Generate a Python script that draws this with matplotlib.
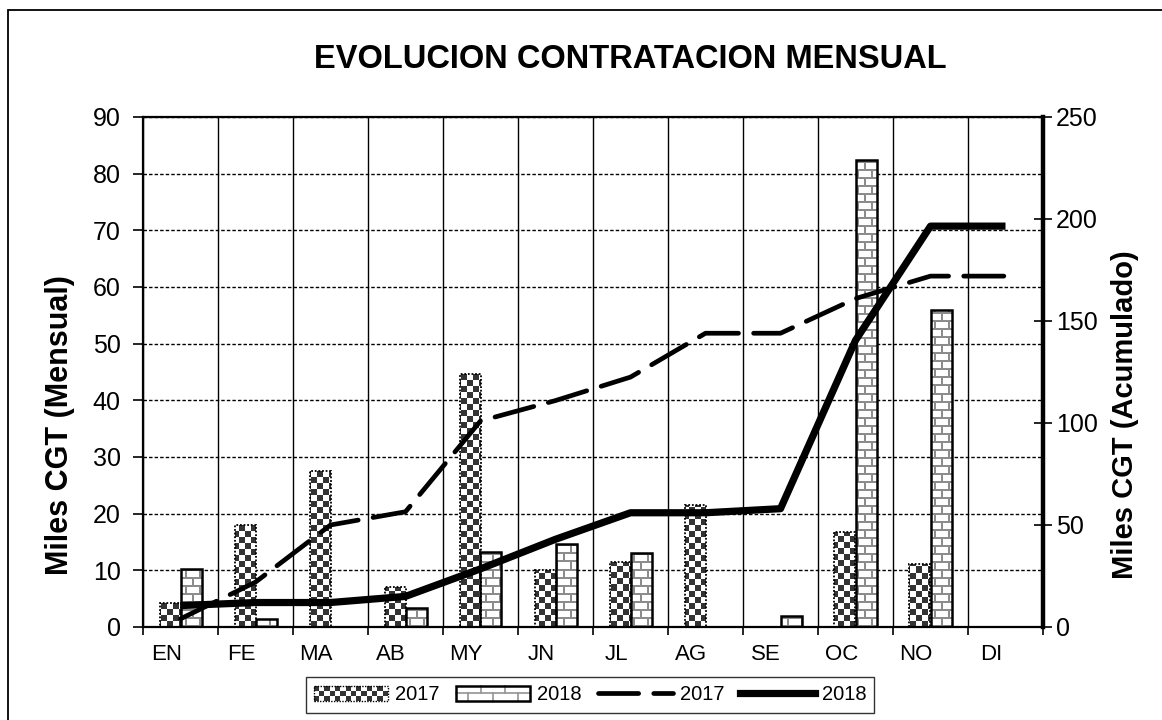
import numpy as np
import matplotlib
matplotlib.use('Agg')
import matplotlib.pyplot as plt
from matplotlib.patches import Rectangle, Patch
from matplotlib.lines import Line2D

# datos
meses = ['EN', 'FE', 'MA', 'AB', 'MY', 'JN', 'JL', 'AG', 'SE', 'OC', 'NO', 'DI']
mensual_2017 = [4.2, 18, 27.5, 7, 44.7, 10, 11.5, 21.5, 0, 16.8, 11.2, 0]
mensual_2018 = [10.2, 1.5, 0, 3.3, 13.2, 14.7, 13, 0, 2, 82.5, 56, 0]
acum_2017 = [4, 22, 50, 56.5, 101, 111, 122.5, 144, 144, 161, 172, 172]
acum_2018 = [10.5, 12, 12, 15, 28.5, 43, 56, 56, 58, 140.5, 196.5, 196.5]

plt.rcParams['font.family'] = ['Liberation Sans', 'DejaVu Sans']

fig = plt.figure(figsize=(11.62, 7.2), dpi=100)
ax = fig.add_axes([143/1162, 93/720, 900/1162, 510/720])
ax2 = ax.twinx()

x = np.arange(len(meses))
w = 0.28

# patrones (en pixeles de pantalla)
H, W = 510, 900
rr, cc = np.mgrid[0:H, 0:W]
checker = ((rr // 6 + cc // 6) % 2 == 0)
img_checker = np.ones((H, W, 3))
img_checker[checker] = 0.2
row = rr // 8
brick_line = (rr % 8 < 2) | (((cc + (row % 2) * 7) % 14) < 2)
img_brick = np.ones((H, W, 3))
img_brick[brick_line] = 0.55

ext = (-0.5, 11.5, 0, 90)
b17 = ax.bar(x - w/2, mensual_2017, w, facecolor='none', edgecolor='black',
             linestyle=(0, (1, 1)), linewidth=1.3, zorder=3)
b18 = ax.bar(x + w/2, mensual_2018, w, facecolor='none', edgecolor='black',
             linewidth=1.8, zorder=3)
for bars, pat in ((b17, img_checker), (b18, img_brick)):
    for r in bars:
        if r.get_height() <= 0:
            continue
        im = ax.imshow(pat, extent=ext, origin='lower', aspect='auto',
                       interpolation='nearest', zorder=2)
        im.set_clip_path(r)

ax.set_xlim(-0.5, 11.5)
ax.set_ylim(0, 90)
ax.set_yticks(range(0, 91, 10))
ax.set_xticks(x - 0.19)
ax.set_xticklabels(meses, fontsize=16)
ax.set_xticks(np.arange(-0.5, 12, 1), minor=True)
ax.tick_params(axis='x', which='major', length=0, pad=12)
ax.tick_params(axis='x', which='minor', length=6, width=1.2, direction='out')
ax.tick_params(axis='y', labelsize=18, length=7, width=1.2, pad=9)
ax.set_axisbelow(True)
ax.xaxis.grid(True, which='minor', color='black', linewidth=1)
ax.yaxis.grid(True, which='major', color='black', linewidth=1, linestyle=(0, (2.5, 1.5)))
for s in ['left', 'bottom', 'top']:
    ax.spines[s].set_linewidth(1.6)
ax.spines['right'].set_visible(False)

ax2.plot(x, acum_2017, color='black', linewidth=3.4, linestyle=(0, (8.5, 3.2)),
         dash_capstyle='round', zorder=4)
ax2.plot(x, acum_2018, color='black', linewidth=5.2, solid_capstyle='butt', zorder=5)
ax2.set_ylim(0, 250)
ax2.set_yticks(range(0, 251, 50))
ax2.tick_params(axis='y', labelsize=18, length=13, width=1.2, direction='inout', pad=3)
for s in ['left', 'bottom', 'top']:
    ax2.spines[s].set_visible(False)
ax2.spines['right'].set_linewidth(3.2)

fig.text(630/1162, 1 - 60/720, 'EVOLUCION CONTRATACION MENSUAL', fontsize=23.5,
         fontweight='bold', ha='center', va='center')
fig.text(60/1162, 1 - 425/720, 'Miles CGT (Mensual)', fontsize=22, fontweight='bold',
         rotation=90, ha='center', va='center')
fig.text(1125/1162, 1 - 415/720, 'Miles CGT (Acumulado)', fontsize=21, fontweight='bold',
         rotation=90, ha='center', va='center')


class CheckerHandler:
    def legend_artist(self, legend, orig_handle, fontsize, handlebox):
        x0, y0 = handlebox.xdescent, handlebox.ydescent
        wd, ht = handlebox.width, handlebox.height
        nx, ny = 14, 3
        cw, ch = wd / nx, ht / ny
        tr = handlebox.get_transform()
        for i in range(nx):
            for j in range(ny):
                if (i + j) % 2 == 0:
                    handlebox.add_artist(Rectangle((x0 + i*cw, y0 + j*ch), cw, ch,
                                                   facecolor='#333333', edgecolor='none', transform=tr))
        border = Rectangle((x0, y0), wd, ht, facecolor='none', edgecolor='black',
                           linestyle=(0, (1, 1)), linewidth=1, transform=tr)
        handlebox.add_artist(border)
        return border


class BrickHandler:
    def legend_artist(self, legend, orig_handle, fontsize, handlebox):
        x0, y0 = handlebox.xdescent, handlebox.ydescent
        wd, ht = handlebox.width, handlebox.height
        tr = handlebox.get_transform()
        handlebox.add_artist(Line2D([x0, x0 + wd], [y0 + ht/2, y0 + ht/2], color='#949494',
                                    linewidth=1.2, transform=tr))
        for k in range(1, 6):
            xx = x0 + wd * k / 6
            yy = (y0, y0 + ht/2) if k % 2 else (y0 + ht/2, y0 + ht)
            handlebox.add_artist(Line2D([xx, xx], yy, color='#949494', linewidth=1.2, transform=tr))
        border = Rectangle((x0, y0), wd, ht, facecolor='none', edgecolor='black',
                           linewidth=1.8, transform=tr)
        handlebox.add_artist(border)
        return border


h17 = Patch()
h18 = Patch()
l17 = Line2D([], [], color='black', linewidth=3.4, linestyle=(0, (8.5, 3.2)), dash_capstyle='round')
l18 = Line2D([], [], color='black', linewidth=5.2)
leg = fig.legend([h17, h18, l17, l18], ['2017', '2018', '2017', '2018'],
                 handler_map={h17: CheckerHandler(), h18: BrickHandler()},
                 loc='center', bbox_to_anchor=(590/1162, 1 - 695/720), ncol=4,
                 fontsize=14.5, frameon=True, fancybox=False, edgecolor='black',
                 handlelength=3.7, handletextpad=0.35, columnspacing=0.8, borderpad=0.4)
leg.get_frame().set_linewidth(1)

fig.add_artist(Rectangle((8/1162, -0.5), 2, 0.5 + 1 - 10/720, transform=fig.transFigure,
                         fill=False, edgecolor='black', linewidth=1.3))

fig.savefig('out.png', dpi=100)
